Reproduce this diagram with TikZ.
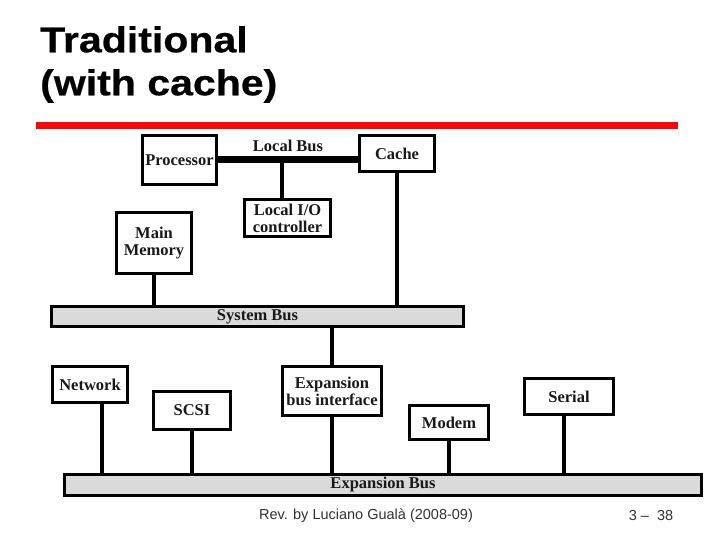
\documentclass[tikz,border=0pt]{standalone}
\usepackage{fontspec}
\setmainfont{Liberation Serif}
\newfontfamily\headfont[BoldFeatures={FakeBold=0.6,FakeStretch=1.14}]{Liberation Sans}
\newfontfamily\footfont{Liberation Sans}
\usetikzlibrary{positioning}
\definecolor{slidered}{RGB}{240,10,10}
\definecolor{busgray}{RGB}{218,218,218}
\definecolor{inkdark}{RGB}{25,25,25}
\definecolor{footgray}{RGB}{50,50,50}
\tikzset{
  unit/.style={rectangle, draw=black, fill=white, line width=2.8bp,
    inner sep=0pt, align=center, text=inkdark,
    font=\fontsize{16.5bp}{17bp}\selectfont\bfseries},
  bus/.style={rectangle, draw=black, fill=busgray, line width=2.8bp,
    inner sep=0pt, text=inkdark,
    font=\fontsize{16.5bp}{17bp}\selectfont\bfseries},
  link/.style={line width=4.6bp, color=black},
  localbus/.style={line width=7bp, color=black}
}

\begin{document}
\begin{tikzpicture}[x=1bp, y=-1bp]
  \useasboundingbox[fill=white] (0,0) rectangle (720,540);
  \node[anchor=north west, inner sep=0pt, align=left,
    font=\headfont\bfseries\fontsize{36bp}{43bp}\selectfont] (title) at (40,26)
    {Traditional\\(with cache)};
  \fill[slidered] (36,122) rectangle (678,129);

  \node[unit, minimum width=74bp, minimum height=49bp] (proc) at (179.5,160) {Processor};
  \node[unit, minimum width=75bp, minimum height=36bp] (cache) at (397,153.5) {Cache};
  \node[unit, minimum width=86bp, minimum height=37bp] (lio) at (287.5,218) {Local I/O\\controller};
  \node[unit, minimum width=75bp, minimum height=61bp] (mem) at (154,243) {Main\\Memory};
  \node[bus, minimum width=412bp, minimum height=20bp] (sysbus) at (257.5,316.5) {System Bus};

  \node[unit, minimum width=75bp, minimum height=36bp] (net) at (90,384.5) {Network};
  \node[unit, minimum width=77bp, minimum height=38bp] (scsi) at (192,410.5) {SCSI};
  \node[unit, minimum width=99bp, minimum height=49bp] (ebi) at (332,391) {Expansion\\bus interface};
  \node[unit, minimum width=79bp, minimum height=34bp] (modem) at (449,422.5) {Modem};
  \node[unit, minimum width=89bp, minimum height=36bp] (serial) at (569,396.5) {Serial};
  \node[bus, minimum width=637bp, minimum height=21bp] (expbus) at (383,485) {Expansion Bus};

  \draw[localbus] (proc.east) -- (proc.east -| cache.west)
    node[midway, above=1bp, font=\fontsize{16.5bp}{17bp}\selectfont\bfseries, text=inkdark] (lbl) {Local Bus};
  \draw[link] ([xshift=-5.5bp]lio.north) -- ([xshift=-5.5bp]lio.north |- proc.east);
  \draw[link] (cache.south) -- (cache.south |- sysbus.north);
  \draw[link] (mem.south) -- (mem.south |- sysbus.north);
  \draw[link] (ebi.north) -- (ebi.north |- sysbus.south);

  \draw[link] ([xshift=12bp]net.south) -- ([xshift=12bp]net.south |- expbus.north);
  \draw[link] (scsi.south) -- (scsi.south |- expbus.north);
  \draw[link] (ebi.south) -- (ebi.south |- expbus.north);
  \draw[link] (modem.south) -- (modem.south |- expbus.north);
  \draw[link] ([xshift=-5bp]serial.south) -- ([xshift=-5bp]serial.south |- expbus.north);

  \node[font=\footfont\fontsize{14.5bp}{17bp}\selectfont, text=footgray] (rev) at (366,516) {Rev. by Luciano Gualà (2008-09)};
  \node[font=\footfont\fontsize{14.5bp}{17bp}\selectfont, text=footgray] (page) at (651,516) {3 –\ \ 38};
\end{tikzpicture}
\end{document}
